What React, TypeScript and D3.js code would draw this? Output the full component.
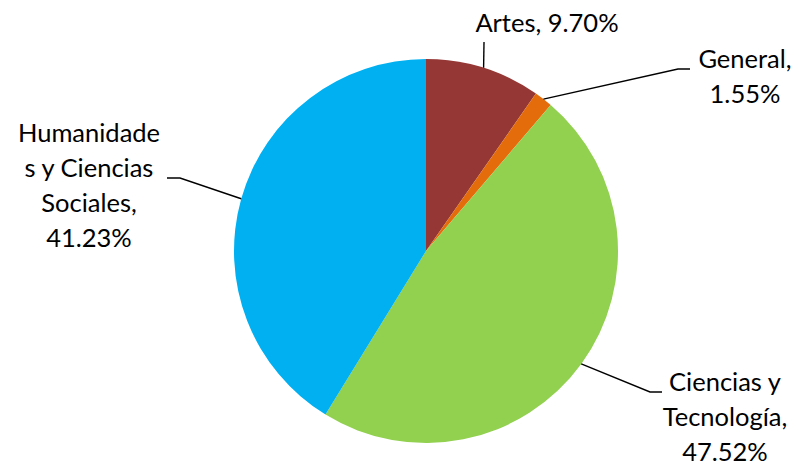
import React from "react";
import * as d3 from "d3";

const categories = ["Artes", "General", "Ciencias y Tecnología", "Humanidades y Ciencias Sociales"];
const values = [9.7, 1.55, 47.52, 41.23];
const colors = ["#953735", "#E46C0A", "#92D050", "#00B0F0"];
// label lines as drawn (word wrap of the original)
const labelLines = [
  ["Artes, 9.70%"],
  ["General,", "1.55%"],
  ["Ciencias y", "Tecnología,", "47.52%"],
  ["Humanidade", "s y Ciencias", "Sociales,", "41.23%"],
];

const width = 799;
const height = 465;
const cx = 426;
const cy = 251;
const radius = 192;
const lineH = 35;

// leader elbow / label placement, relative to pie center
const labelLayout = [
  { elbow: null, end: [58, -209], text: [121, -219] },
  { elbow: [252, -182], end: [264, -182], text: [319, -183] },
  { elbow: [224, 141], end: [236, 141], text: [299, 140] },
  { elbow: [-246, -73], end: [-259, -73], text: [-337, -109] },
];

const App = () => {
  const data = categories.map((c, i) => ({ label: c, value: values[i] }));
  const pie = d3
    .pie<{ label: string; value: number }>()
    .value(d => d.value)
    .sort(null)
    .startAngle(0)
    .endAngle(2 * Math.PI);
  const arc = d3
    .arc<d3.PieArcDatum<{ label: string; value: number }>>()
    .innerRadius(0)
    .outerRadius(radius);
  const arcs = pie(data);

  return (
    <svg
      width={width}
      height={height}
      style={{ position: "absolute", left: 0, top: 0, background: "#fff" }}
      fontFamily="Lato, 'Open Sans', sans-serif"
      fontSize={25.5}
    >
      <g transform={`translate(${cx},${cy})`}>
        {arcs.map((a, i) => (
          <path key={i} d={arc(a) || ""} fill={colors[i]} />
        ))}
        {arcs.map((a, i) => {
          const mid = (a.startAngle + a.endAngle) / 2;
          const p0: [number, number] = [radius * Math.sin(mid), -radius * Math.cos(mid)];
          const L = labelLayout[i];
          const pts: [number, number][] = [p0];
          if (L.elbow) pts.push(L.elbow as [number, number]);
          pts.push(L.end as [number, number]);
          const path = d3.line()(pts) || "";
          return (
            <g key={i}>
              <path d={path} fill="none" stroke="#000" strokeWidth={1.4} />
              <text textAnchor="middle" fill="#000">
                {labelLines[i].map((t, j) => (
                  <tspan key={j} x={L.text[0]} y={L.text[1] + j * lineH}>
                    {t}
                  </tspan>
                ))}
              </text>
            </g>
          );
        })}
      </g>
    </svg>
  );
};

export default App;
